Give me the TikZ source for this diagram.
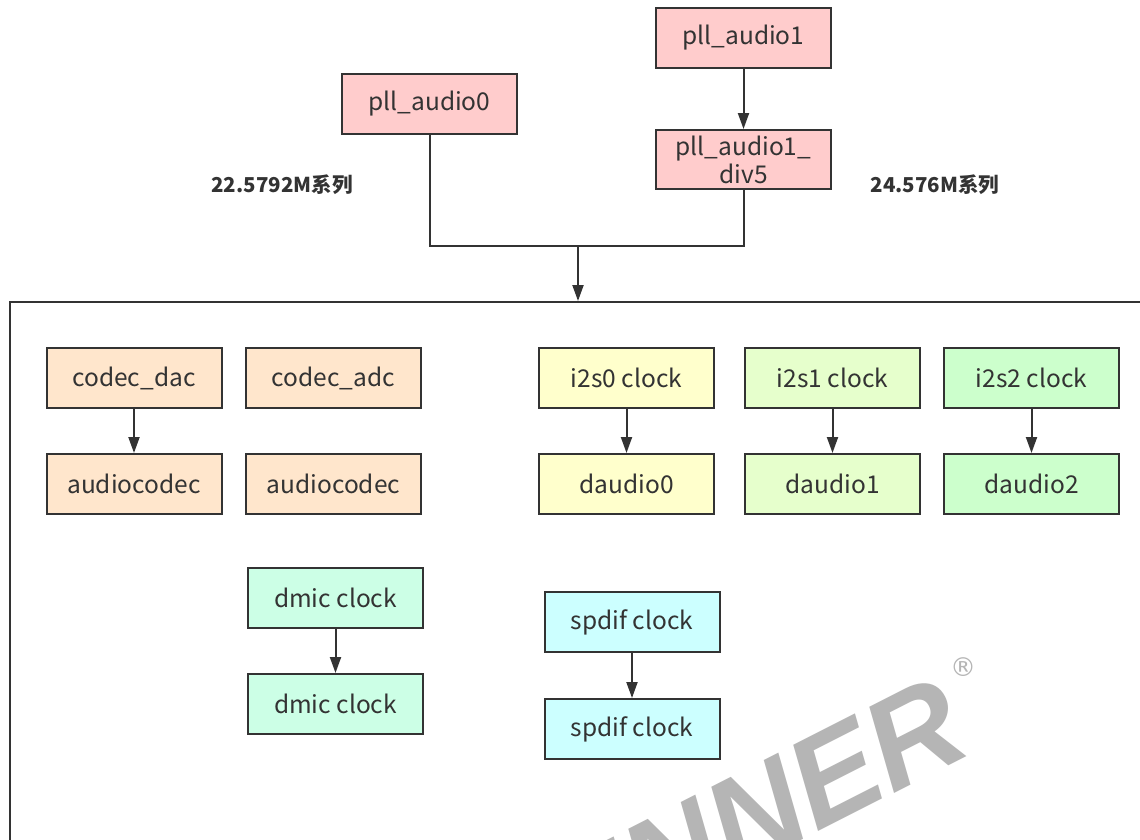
\documentclass[tikz,border=0pt]{standalone}
\usepackage{fontspec}
\setmainfont{Noto Sans CJK SC}
\newfontfamily\wmfont{Liberation Sans}
\newfontfamily\dvfont{DejaVu Sans}
\usetikzlibrary{arrows.meta}
\definecolor{edge}{HTML}{333333}
\definecolor{pll}{HTML}{FFCCCC}
\definecolor{codec}{HTML}{FFE6CC}
\definecolor{isa}{HTML}{FFFFCC}
\definecolor{isb}{HTML}{E6FFCC}
\definecolor{isc}{HTML}{CCFFCC}
\definecolor{dmic}{HTML}{CCFFE6}
\definecolor{spdif}{HTML}{CCFFFF}
\definecolor{wm}{HTML}{B5B5B5}
\begin{document}
\begin{tikzpicture}[x=1pt,y=-1pt,
  box/.style={draw=edge, line width=2pt, minimum width=175pt, minimum height=60pt,
    inner sep=0pt, font=\fontsize{24.5}{28}\selectfont, text=edge, align=center},
  arr/.style={draw=edge, line width=2pt, -{Triangle[length=16pt,width=11pt]}},
  lnk/.style={draw=edge, line width=2pt},
  lbl/.style={font=\bfseries\fontsize{20.5}{22}\selectfont, text=edge}]
\useasboundingbox (0,0) rectangle (1140,839);
\clip (0,0) rectangle (1140,839);
\fill[white] (0,0) rectangle (1140,839);
% watermark
\node[rotate=27, anchor=base east, text=wm, inner sep=0pt,
  font=\wmfont\bfseries\itshape\fontsize{128}{128}\selectfont] (wmk) at (975,752) {ALLWINNER};
\node[text=wm, inner sep=0pt, font=\dvfont\fontsize{26}{26}\selectfont] (reg) at (963,667) {®};
% container
\node[draw=edge, line width=2pt, minimum width=1160pt, minimum height=580pt,
  anchor=north west, inner sep=0pt] (cont) at (9,301) {};
% top nodes
\node[box, fill=pll] (pa0) at (429.5,104) {pll\_audio0};
\node[box, fill=pll] (pa1) at (743.5,38) {pll\_audio1};
\node[box, fill=pll, minimum height=59pt] (pdiv) at (743.5,159.5) {pll\_audio1\_\\div5};
\node[lbl] (l1) at (282,185) {22.5792M系列};
\node[lbl] (l2) at (935,185) {24.576M系列};
\coordinate (j) at (578,246);
\draw[arr] (pa1) -- (pdiv);
\draw[lnk] (pa0.south) |- (j);
\draw[lnk] (pdiv.south) |- (j);
\draw[arr] (j) -- (j |- cont.north);
% codec
\node[box, fill=codec] (cdac) at (134,378) {codec\_dac};
\node[box, fill=codec] (cadc) at (333.5,378) {codec\_adc};
\node[box, fill=codec] (ac1) at (134,484) {audiocodec};
\node[box, fill=codec] (ac2) at (333.5,484) {audiocodec};
\draw[arr] (cdac) -- (ac1);
% i2s
\node[box, fill=isa] (i0) at (626.5,378) {i2s0 clock};
\node[box, fill=isb] (i1) at (832.5,378) {i2s1 clock};
\node[box, fill=isc] (i2) at (1031.5,378) {i2s2 clock};
\node[box, fill=isa] (d0) at (626.5,484) {daudio0};
\node[box, fill=isb] (d1) at (832.5,484) {daudio1};
\node[box, fill=isc] (d2) at (1031.5,484) {daudio2};
\draw[arr] (i0) -- (d0);
\draw[arr] (i1) -- (d1);
\draw[arr] (i2) -- (d2);
% dmic
\node[box, fill=dmic] (dm1) at (335.5,598) {dmic clock};
\node[box, fill=dmic] (dm2) at (335.5,704) {dmic clock};
\draw[arr] (dm1) -- (dm2);
% spdif
\node[box, fill=spdif] (sp1) at (632,622) {spdif clock};
\node[box, fill=spdif] (sp2) at (632,729) {spdif clock};
\draw[arr] (sp1) -- (sp2);
\end{tikzpicture}
\end{document}
